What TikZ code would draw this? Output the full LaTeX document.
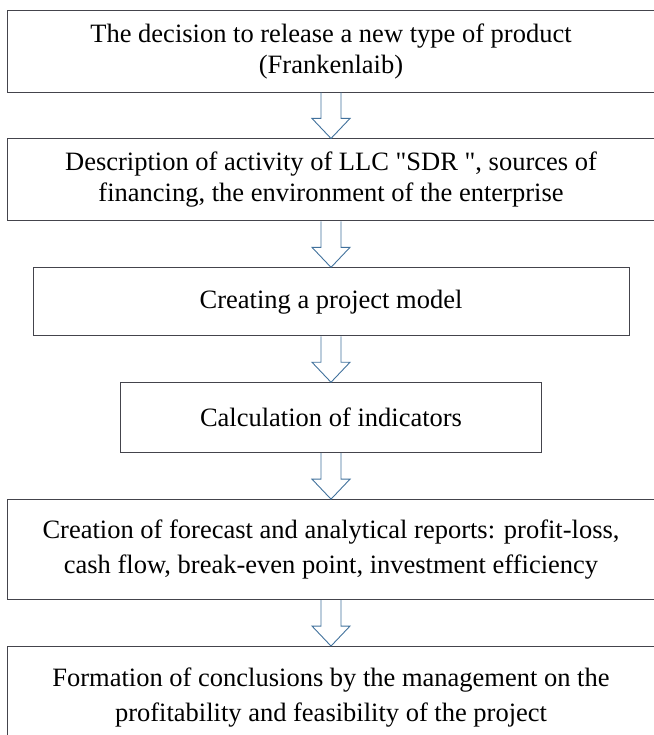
\documentclass[tikz,border=0pt]{standalone}
\usepackage{fontspec}
\setmainfont{Liberation Serif}
\usetikzlibrary{positioning}
\definecolor{arrowblue}{RGB}{65,113,156}
\definecolor{boxgray}{RGB}{68,68,76}

\begin{document}
\begin{tikzpicture}[node distance=46pt,
    box/.style={draw=boxgray, line width=0.9pt, align=center, inner sep=0pt,
      font=\fontsize{26.5}{31}\selectfont},
    wide box/.style={box, minimum width=647pt},
    block arrow/.style={draw=arrowblue, line width=0.9pt, to path={
      ([xshift=-10pt]\tikztostart.south) -- ([xshift=-10pt,yshift=20pt]\tikztotarget.north)
      -- ([xshift=-19pt,yshift=20pt]\tikztotarget.north) -- (\tikztotarget.north)
      -- ([xshift=19pt,yshift=20pt]\tikztotarget.north)
      -- ([xshift=10pt,yshift=20pt]\tikztotarget.north) -- ([xshift=10pt]\tikztostart.south)}}]

    \useasboundingbox (0,0) rectangle (653pt,-735pt);

    \node[wide box, minimum height=82pt] (1) at (331pt,-51pt)
        {The decision to release a new type of product\\(Frankenlaib)};
    \node[wide box, minimum height=82pt] (2) [below=of 1]
        {Description of activity of LLC \textquotedbl SDR \textquotedbl, sources of\\financing, the environment of the enterprise};
    \node[box, minimum width=596pt, minimum height=68pt] (3) [below=of 2]
        {Creating a project model};
    \node[box, minimum width=421pt, minimum height=70pt] (4) [below=of 3]
        {Calculation of indicators};
    \node[wide box, minimum height=100pt] (5) [below=of 4]
        {Creation of forecast and analytical reports: profit-loss,\\[4pt]cash flow, break-even point, investment efficiency};
    \node[wide box, minimum height=102pt] (6) [below=of 5]
        {Formation of conclusions by the management on the\\[4pt]profitability and feasibility of the project};

    \path
    (1) edge[block arrow] (2)
    (2) edge[block arrow] (3)
    (3) edge[block arrow] (4)
    (4) edge[block arrow] (5)
    (5) edge[block arrow] (6);
\end{tikzpicture}
\end{document}
